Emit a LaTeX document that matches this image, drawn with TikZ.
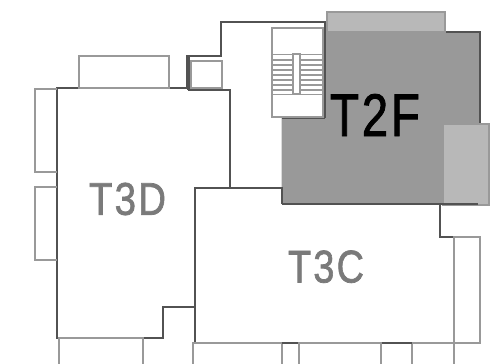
\documentclass[tikz,border=0pt]{standalone}
\usepackage{fontspec}
\setmainfont{Liberation Sans}[BoldFont={Liberation Sans},BoldFeatures={FakeBold=1.6,LetterSpace=6}]
\tikzset{
    wall/.style={draw=black!68, line width=2pt},
    window/.style={draw=black!40, line width=2pt},
    unit/.style={inner sep=0pt, outer sep=0pt, text=black!52, font=\bfseries\fontsize{45}{45}\selectfont},
}
\begin{document}
\begin{tikzpicture}[x=1pt, y=-1pt]
    \useasboundingbox (0,0) rectangle (493,364);
    % shaded unit
    \fill [black!40] (325,32) -- (480,32) -- (480,204) -- (281.7,204) -- (281.7,118) -- (325,118) -- cycle;
    % walls
    \draw [wall] (325,32) -- (480,32) -- (480,124);
    \draw [wall] (325,118) -- (325,22.3) -- (220.7,22.3) -- (220.7,56) -- (186.7,56) -- (186.7,88.3) -- (56.7,88.3) -- (56.7,338) -- (163.3,338) -- (163.3,306.7) -- (195,306.7);
    \draw [wall, line width=3pt] (188,56) -- (188,90);
    \draw [wall] (188,90) -- (230,90) -- (230,188);
    \draw [wall] (281.7,118) -- (325,118);
    \draw [wall] (195,343) -- (195,188) -- (281.7,188) -- (281.7,204);
    % windows
    \draw [window] (79.3,88.3) rectangle (169.3,56);
    \draw [window] (56.7,89) -- (35,89) -- (35,171.7) -- (56.7,171.7);
    \draw [window] (56.7,187) -- (35,187) -- (35,260) -- (56.7,260);
    \draw [window] (59.3,364) -- (59.3,338) -- (143.3,338) -- (143.3,364);
    \draw [window] (190.5,60.7) rectangle (221.7,88.3);
    \draw [window, fill=black!28] (326.7,11.7) rectangle (445,32);
    \draw [window, fill=black!28] (442.7,124) -- (489,124) -- (489,205) -- (442.7,205) -- cycle;
    \draw [window] (193.3,364) -- (193.3,343) -- (480,343) -- (480,236.7) -- (454,236.7) -- (454,364);
    \foreach \xdrop in {281.7,299,381,412.3}
        \draw [window] (\xdrop,343) -- (\xdrop,364);
    \draw [wall] (281.7,343) -- (298.3,343);
    \draw [wall] (381.7,343) -- (411.7,343);
    % lower walls, over the windows
    \draw [wall] (281.7,204) -- (478,204);
    \draw [wall] (440,204) -- (440,236.7) -- (453,236.7);
    % stairs
    \draw [window, fill=white] (271.7,27.7) rectangle (322.7,116.7);
    \foreach \ytread in {54.3,60,65,70,75,80,85,90,94.3}
        \draw [window, line width=1.5pt] (271.7,\ytread) -- (322.7,\ytread);
    \draw [window, fill=white] (293.3,54.3) rectangle (300,94.3);
    % unit names
    \node [unit, text=black, font=\bfseries\fontsize{58}{58}\selectfont] (tf) at (375,115) {\resizebox{90pt}{42pt}{T2F}};
    \node [unit] (td) at (127.5,199) {\resizebox{77pt}{32pt}{T3D}};
    \node [unit] (tc) at (326,266.7) {\resizebox{76pt}{32pt}{T3C}};
\end{tikzpicture}
\end{document}
